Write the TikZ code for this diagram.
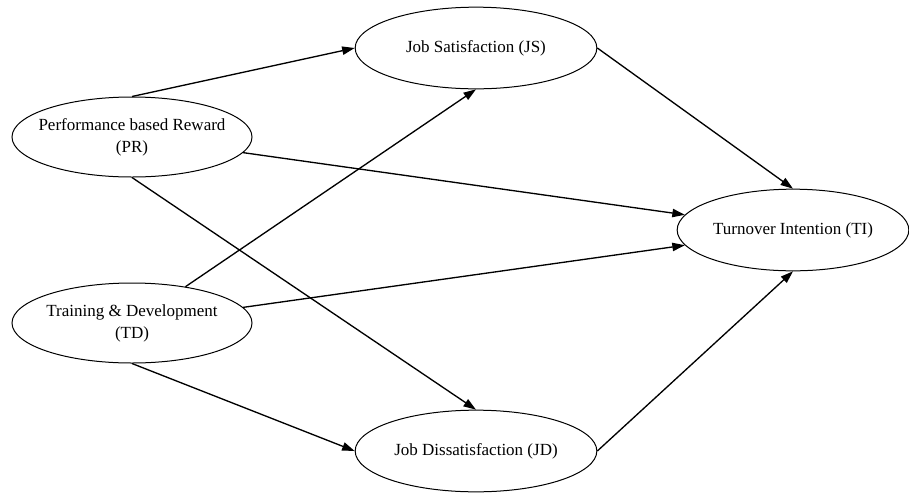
\documentclass[tikz,border=0pt]{standalone}
\usepackage{fontspec}
\setmainfont{Liberation Serif}
\usetikzlibrary{shapes.geometric, arrows.meta}

\begin{document}
\begin{tikzpicture}[
        x=0.6pt, y=-0.6pt,
        every node/.style={font=\fontsize{10.2}{13.2}\selectfont},
        construct/.style={draw, ellipse, line width=0.6pt, inner xsep=-12pt, inner ysep=0pt, align=center, minimum width=144pt, minimum height=48pt},
        path/.style={line width=0.8pt, -{Triangle[length=7.5pt, width=5pt]}}
    ]
    \useasboundingbox (0,0) rectangle (909,493);

    % constructs
    \node [construct] (PR) at (132,137) {Performance based Reward\\(PR)};
    \node [construct] (TD) at (132,323) {Training \& Development\\(TD)};
    \node [construct, minimum width=145pt, minimum height=49pt] (JS) at (476,48) {Job Satisfaction (JS)};
    \node [construct, minimum width=145pt, minimum height=49pt] (JD) at (476,451) {Job Dissatisfaction (JD)};
    \node [construct, minimum width=139pt, minimum height=49pt] (TI) at (793,230) {Turnover Intention (TI)};

    % paths
    \draw [path] (PR.north) -- (JS.west);
    \draw [path] (PR) -- (TI);
    \draw [path] (PR.south) -- (JD.north);
    \draw [path] (TD) -- (JS.south);
    \draw [path] (TD) -- (TI);
    \draw [path] (TD.south) -- (JD.west);
    \draw [path] (JS.east) -- (TI.north);
    \draw [path] (JD.east) -- (TI.south);
\end{tikzpicture}
\end{document}
